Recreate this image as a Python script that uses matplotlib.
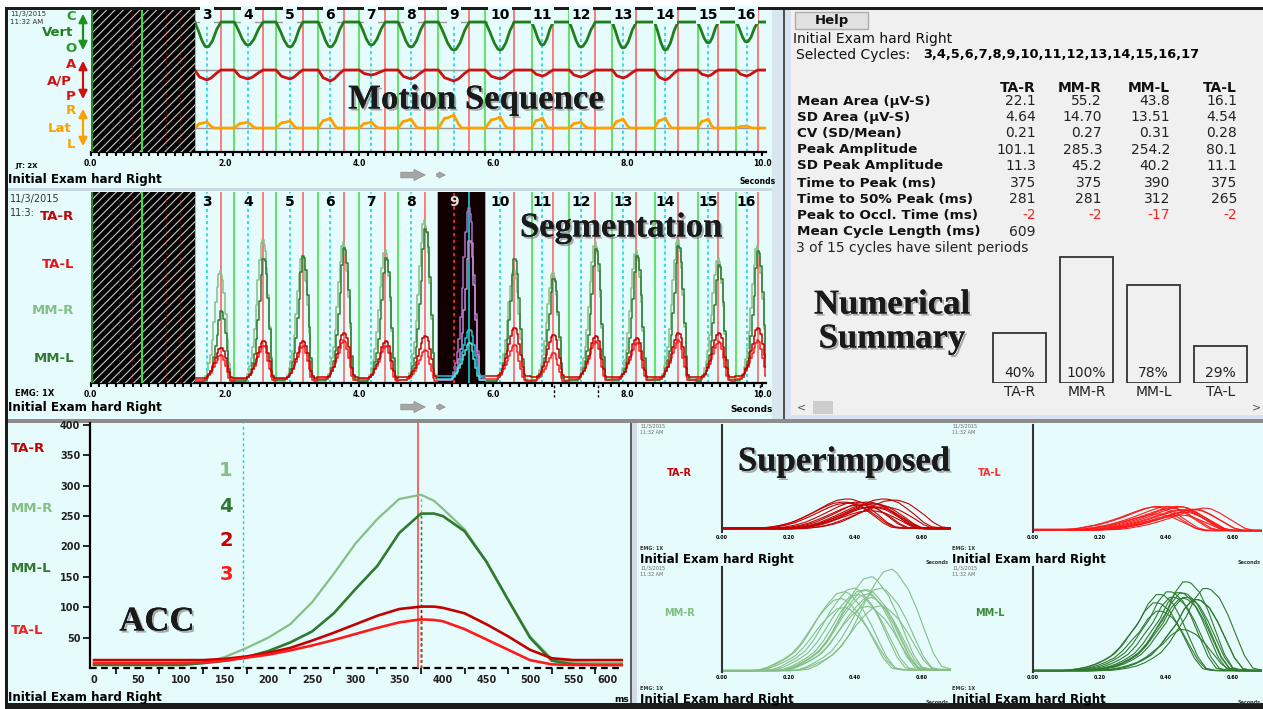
import numpy as np
import matplotlib
matplotlib.use('Agg')
import matplotlib.pyplot as plt
from matplotlib.patches import Rectangle, FancyArrowPatch
import matplotlib.patheffects as pe

plt.rcParams['font.family'] = ['DejaVu Sans']
plt.rcParams['hatch.linewidth'] = 0.8

# ---------------- data ----------------
cycle_numbers = list(range(3, 17))
cycle_start = [1.55, 2.14, 2.76, 3.39, 4.00, 4.58, 5.18, 5.88, 6.57, 7.13, 7.77, 8.40, 9.04, 9.62]
cycle_mid = [1.73, 2.34, 2.97, 3.57, 4.18, 4.77, 5.41, 6.10, 6.73, 7.30, 7.93, 8.56, 9.20, 9.77]
cycle_end = [1.94, 2.57, 3.16, 3.77, 4.39, 4.98, 5.64, 6.31, 6.89, 7.52, 8.13, 8.75, 9.35, 9.94]
excluded_until = 1.55
extra_marker = 0.77
selected_idx = 6          # cycle 9 highlighted
occlusion_marks = [6.9, 7.55, 9.97]

# jaw tracking excursions per cycle
vert_depth = [25, 23, 25, 25, 23, 25, 28, 28, 23, 25, 26, 28, 21, 20]
ap_depth = [10, 9, 9, 11, 5, 9, 11, 9, 6, 7, 8, 10, 6, 6]
lat_height = [6, 6, 7, 10, 6, 9, 13, 11, 10, 6, 9, 10, 9, 2]

# shape of one opening stroke (fraction of phase -> fraction of excursion)
vert_down_f, vert_down_v = [0, 0.3, 0.6, 0.85, 1.0], [0, 0.35, 0.75, 0.97, 1.0]
vert_up_f, vert_up_v = [0.15, 0.4, 0.7, 1.0], [0.97, 0.75, 0.3, 0.0]
ap_down_f, ap_down_v = [0, 0.4, 1.0], [0, 0.7, 1.0]
ap_up_f, ap_up_v = [0.3, 0.7, 1.0], [0.8, 0.3, 0.0]
lat_down_f, lat_down_v = [0, 0.4, 0.65, 1.0], [0, 0.75, 0.8, 1.0]
lat_up_f, lat_up_v = [0.3, 0.5, 1.0], [0.3, 0.0, 0.0]

# EMG peak amplitude per cycle (uV)
mmr_amp = [238, 304, 270, 298, 283, 345, 372, 240, 234, 298, 281, 304, 266, 291]
mml_amp = [153, 262, 270, 287, 266, 326, 302, 262, 220, 285, 270, 290, 250, 280]
tar_amp = [75, 89, 89, 106, 89, 100, 113, 117, 102, 100, 96, 106, 106, 117]
tal_amp = [60, 79, 79, 91, 79, 70, 85, 81, 64, 89, 85, 91, 89, 91]

# averaged cycle (ACC)
acc_ms = [0, 50, 100, 125, 150, 175, 200, 225, 250, 275, 300, 325, 350, 375, 390,
          400, 425, 450, 475, 500, 525, 550, 575, 610]
acc_mmr = [5, 5, 5, 8, 18, 33, 50, 72, 108, 155, 205, 245, 278, 285, 275, 262, 228, 175, 112, 52, 15, 9, 8, 8]
acc_mml = [5, 5, 5, 8, 12, 18, 28, 42, 60, 90, 130, 168, 222, 254, 254, 250, 225, 175, 112, 50, 12, 6, 5, 5]
acc_tar = [13, 13, 13, 13, 15, 19, 25, 33, 45, 58, 72, 86, 97, 101, 101, 99, 90, 72, 52, 30, 16, 13, 13, 13]
acc_tal = [8, 8, 8, 9, 12, 17, 22, 29, 37, 46, 56, 66, 75, 80, 79, 77, 64, 47, 30, 13, 6, 5, 5, 5]
acc_start_ms = 171
acc_occlusion_ms = 372

# numerical summary
muscles = ['TA-R', 'MM-R', 'MM-L', 'TA-L']
row_labels = ['Mean Area (µV-S)', 'SD Area (µV-S)', 'CV (SD/Mean)', 'Peak Amplitude',
              'SD Peak Amplitude', 'Time to Peak (ms)', 'Time to 50% Peak (ms)',
              'Peak to Occl. Time (ms)']
tar_stats = ['22.1', '4.64', '0.21', '101.1', '11.3', '375', '281', '-2']
mmr_stats = ['55.2', '14.70', '0.27', '285.3', '45.2', '375', '281', '-2']
mml_stats = ['43.8', '13.51', '0.31', '254.2', '40.2', '390', '312', '-17']
tal_stats = ['16.1', '4.54', '0.28', '80.1', '11.1', '375', '265', '-2']
mean_cycle_ms = '609'
pct_of_max = [40, 100, 78, 29]

# ---------------- colours ----------------
CYAN_BG = '#e6fbfc'
C_TAR, C_TAL, C_MMR, C_MML = '#c40000', '#ff1a1a', '#86bf86', '#2f7a2f'
C_START, C_END, C_MID = '#3ddc3d', '#ff5a5a', '#00d4ea'

W, H = 1263, 709
fig = plt.figure(figsize=(W / 100, H / 100), dpi=100)


def rect(x0, y0, x1, y1):
    return [x0 / W, 1 - y1 / H, (x1 - x0) / W, (y1 - y0) / H]


def txt(x, y, s, **kw):
    kw.setdefault('va', 'center')
    return fig.text(x / W, 1 - y / H, s, **kw)


SHADOW = [pe.withSimplePatchShadow(offset=(1.5, -1.5), shadow_rgbFace='#777777', alpha=0.6), pe.Normal()]


def title(x, y, s):
    txt(x, y, s, ha='center', family='Liberation Serif', fontweight='bold', fontsize=25,
        color='#1a1a1a', zorder=20, path_effects=SHADOW)


# ---------------- background / window chrome ----------------
bg = fig.add_axes([0, 0, 1, 1], zorder=-5)
bg.set_xlim(0, W)
bg.set_ylim(H, 0)
bg.axis('off')
panels = [((5, 7, 1263, 709), '#1c1c1c'),
          ((8, 10, 784, 188), CYAN_BG), ((8, 188, 784, 191), '#c9d9e3'),
          ((8, 191, 784, 419), CYAN_BG),
          ((772, 10, 783, 419), '#d9e6ef'), ((783, 10, 785, 420), '#505050'),
          ((785, 10, 791, 420), '#d7e3f2'), ((791, 10, 1263, 420), '#f0f0f0'),
          ((791, 415, 1263, 420), '#d7e3f2'),
          ((8, 419, 1263, 423), '#8c8c8c'),
          ((8, 423, 630, 703), CYAN_BG), ((630, 423, 632, 703), '#606060'),
          ((632, 423, 637, 703), '#d3dce4'), ((637, 423, 1263, 703), CYAN_BG)]
for (x0, y0, x1, y1), c in panels:
    bg.add_patch(Rectangle((x0, y0), x1 - x0, y1 - y0, facecolor=c, edgecolor='none'))

# help button and scroll bar
bg.add_patch(Rectangle((795, 12), 73, 17, facecolor='#e1e1e1', edgecolor='#adadad', lw=1))
bg.add_patch(Rectangle((813, 401), 20, 13, facecolor='#cdcdcd', edgecolor='none'))
txt(832, 20.5, 'Help', ha='center', fontweight='bold', fontsize=9.5, color='#111111')
txt(797, 407, '<', fontsize=8, color='#555555')
txt(1252, 407, '>', fontsize=8, color='#555555')

# navigation arrows
for y0 in (175, 407):
    for xa, xb, w in ((398, 428, 9), (434, 448, 5)):
        bg.add_patch(FancyArrowPatch((xa, y0), (xb, y0),
                                     arrowstyle=f'simple,head_width={w * 0.9},head_length={w * 0.9},tail_width={w * 0.45}',
                                     mutation_scale=1, facecolor='#a6a6a6', edgecolor='#8a8a8a', lw=0.5))


# ---------------- time-based panels ----------------
def time_axis(ax):
    ax.set_xlim(0, 10.06)
    ax.patch.set_alpha(0)
    for s in ('top', 'right', 'left'):
        ax.spines[s].set_visible(False)
    ax.spines['bottom'].set_linewidth(1.6)
    major = np.arange(0, 10.01, 2.0)
    ax.set_xticks(major)
    ax.set_xticklabels([f'{v:.1f}' for v in major], fontsize=5.5, fontweight='bold')
    ax.set_xticks(np.arange(0, 10.06, 0.125), minor=True)
    ax.tick_params(axis='x', which='both', length=3, width=1.5, pad=2, direction='out')
    ax.set_yticks([])
    ax.axvspan(0, excluded_until, facecolor='black', edgecolor='#c8c8c8', hatch='////', lw=0, zorder=3)
    for x in (0.42, 0.62, 1.12, 1.33):
        ax.axvline(x, color='#b01010', lw=0.8, ls=(0, (1, 3)), zorder=3.5)
    ax.axvline(0, color='#1f8f1f', lw=3, zorder=4)
    ax.axvline(extra_marker, color=C_START, lw=1.5, zorder=4)
    for g, m, r in zip(cycle_start, cycle_mid, cycle_end):
        ax.axvline(g, color=C_START, lw=1.1, zorder=1)
        ax.axvline(r, color=C_END, lw=1.1, zorder=1)
        ax.axvline(m, color=C_MID, lw=1.1, ls=(0, (2, 2)), zorder=1)


def motion_trace(df, dv, uf, uv, amps, base, sign):
    t, v = [excluded_until], [base]
    for g, m, r, a in zip(cycle_start, cycle_mid, cycle_end, amps):
        for f, s in zip(df, dv):
            t.append(g + f * (m - g))
            v.append(base + sign * a * s)
        for f, s in zip(uf, uv):
            t.append(m + f * (r - m))
            v.append(base + sign * a * s)
    t.append(10.1)
    v.append(base)
    return t, v


# Motion sequence
axm = fig.add_axes(rect(90.7, 10, 766, 152))
time_axis(axm)
axm.set_ylim(0, 142)
base_vert, base_ap, base_lat = 130, 82, 24
for b in (base_vert, base_ap, base_lat):
    axm.hlines(b, excluded_until, 10.06, color='#9a9a9a', lw=1, zorder=1)
for spec, c in (((vert_down_f, vert_down_v, vert_up_f, vert_up_v, vert_depth, base_vert, -1), '#1f7f1f'),
                ((ap_down_f, ap_down_v, ap_up_f, ap_up_v, ap_depth, base_ap, -1), '#cc1111'),
                ((lat_down_f, lat_down_v, lat_up_f, lat_up_v, lat_height, base_lat, 1), '#ffa000')):
    t, v = motion_trace(*spec)
    axm.plot(t, v, color=c, lw=2, zorder=2)
for n, m in zip(cycle_numbers, cycle_mid):
    axm.text(m, 137, str(n), ha='center', va='center', fontsize=10, fontweight='bold', zorder=6,
             bbox=dict(boxstyle='square,pad=0.15', fc=CYAN_BG, ec='none'))


# Segmentation
def seg_trace(curve, amps, only=None):
    curve = np.asarray(curve, float)
    ms = np.asarray(acc_ms) / 1000.0
    peak_ms = ms[np.argmax(curve)]
    t, v = [], []
    for i, (g, r, a) in enumerate(zip(cycle_start, cycle_end, amps)):
        if only is not None and i != only:
            continue
        nxt = cycle_start[i + 1] if i + 1 < len(cycle_start) else 99
        tt = r + ms - peak_ms
        keep = (tt >= g) & (tt < nxt)
        t.extend([g] + list(tt[keep]))
        v.extend([curve[0] * a / curve.max()] + list(curve[keep] * a / curve.max()))
    return t, v


axs = fig.add_axes(rect(90.7, 192, 766, 383))
time_axis(axs)
axs.set_ylim(0, 405)
for curve, amps, c in ((acc_mmr, mmr_amp, C_MMR), (acc_mml, mml_amp, C_MML),
                       (acc_tal, tal_amp, C_TAL), (acc_tar, tar_amp, C_TAR)):
    t, v = seg_trace(curve, amps)
    axs.plot(t, v, color=c, lw=1.1, zorder=2, drawstyle='steps-mid')
g0, g1 = cycle_start[selected_idx], cycle_start[selected_idx + 1]
axs.axvspan(g0, g1, facecolor='#120000', edgecolor='none', zorder=3)
axs.axvline(cycle_mid[selected_idx], color='#ff3030', ls=(0, (2, 2)), lw=1.2, zorder=4)
axs.axvline(cycle_end[selected_idx], color='#20c8d8', lw=1.2, zorder=4)
for curve, amps, c in ((acc_mmr, mmr_amp, '#a673c8'), (acc_mml, mml_amp, '#c58ad8'),
                       (acc_tar, tar_amp, '#22c4d4'), (acc_tal, tal_amp, '#4fe0e0')):
    t, v = seg_trace(curve, amps, only=selected_idx)
    axs.plot(t, v, color=c, lw=1.1, zorder=5, drawstyle='steps-mid')
for n, m in zip(cycle_numbers, cycle_mid):
    axs.text(m, 383, str(n), ha='center', va='center', fontsize=10, fontweight='bold', zorder=6,
             color='#e0e0e0' if n == cycle_numbers[selected_idx] else 'black')
for x in occlusion_marks:
    axs.plot([x, x], [-4, -30], color='black', ls=(0, (2, 1.5)), lw=1, clip_on=False)

# left-hand labels of the two time panels
txt(10, 14, '11/3/2015', fontsize=5, color='#333333')
txt(10, 22, '11:32 AM', fontsize=5, color='#333333')
for s, x, y, c in (('C', 71, 16, '#2a9a2a'), ('Vert', 58, 33, '#1f7f1f'), ('O', 71, 49, '#2a9a2a'),
                   ('A', 71, 65, '#dd1111'), ('A/P', 59, 81, '#cc1111'), ('P', 71, 97, '#dd1111'),
                   ('R', 71, 111, '#ffa000'), ('Lat', 60, 128, '#ffa000'), ('L', 71, 144, '#ffa000')):
    txt(x, y, s, ha='center', fontsize=9.5, fontweight='bold', color=c)
for y0, y1, c in ((11, 53, '#1f8f1f'), (58, 102, '#cc1111'), (106, 149, '#ffa000')):
    bg.add_patch(FancyArrowPatch((83, y0), (83, y1), arrowstyle='<|-|>,head_width=2.5,head_length=5',
                                 mutation_scale=1, color=c, lw=1.6))
txt(15, 166, 'JT: 2X', fontsize=5, fontweight='bold')
txt(8, 179, 'Initial Exam hard Right', fontsize=8.6, fontweight='bold')
txt(740, 181, 'Seconds', fontsize=5.5, fontweight='bold')
title(476, 100, 'Motion Sequence')

txt(10, 199, '11/3/2015', fontsize=7, color='#333333')
txt(10, 213, '11:3:', fontsize=7, color='#333333')
for s, y, c in (('TA-R', 216, C_TAR), ('TA-L', 264, '#ee1111'), ('MM-R', 311, C_MMR), ('MM-L', 358, C_MML)):
    txt(74, y, s, ha='right', fontsize=9.5, fontweight='bold', color=c)
txt(15, 393, 'EMG: 1X', fontsize=6, fontweight='bold')
txt(8, 408, 'Initial Exam hard Right', fontsize=8.6, fontweight='bold')
txt(773, 410, 'Seconds', ha='right', fontsize=6.5, fontweight='bold')
title(621, 228, 'Segmentation')

# ---------------- numerical summary ----------------
txt(793, 39, 'Initial Exam hard Right', fontsize=10, color='#111111')
txt(796, 55, 'Selected Cycles:', fontsize=10, color='#111111')
txt(923, 55, ','.join(str(n) for n in cycle_numbers + [17]), fontsize=9.3, fontweight='bold')
col_x = [1036, 1102, 1170, 1237]
row_y = [101, 117, 133, 150, 166, 183, 199, 215]
for m, x in zip(muscles, col_x):
    txt(x, 88, m, ha='right', fontsize=10, fontweight='bold', color='#111111')
for stats, x in zip((tar_stats, mmr_stats, mml_stats, tal_stats), col_x):
    for i, (s, y) in enumerate(zip(stats, row_y)):
        txt(x, y, s, ha='right', fontsize=10, color='#ff2222' if i == 7 else '#222222')
for s, y in zip(row_labels, row_y):
    txt(797, y, s, fontsize=9.7, fontweight='bold', color='#111111')
txt(797, 232, 'Mean Cycle Length (ms)', fontsize=9.7, fontweight='bold', color='#111111')
txt(1036, 232, mean_cycle_ms, ha='right', fontsize=10, color='#222222')
txt(796, 248, '3 of 15 cycles have silent periods', fontsize=10, color='#222222')
for s, y in (('Numerical', 305), ('Summary', 339)):
    txt(892, y, s, ha='center', family='Liberation Serif', fontweight='bold', fontsize=25,
        color='#1a1a1a', path_effects=SHADOW)

axb = fig.add_axes(rect(986, 255, 1254, 383))
axb.patch.set_alpha(0)
axb.set_xlim(-0.5, 3.5)
axb.set_ylim(0, 100 * 128 / 126)
axb.bar(range(4), pct_of_max, width=0.79, facecolor='none', edgecolor='#333333', lw=1.3)
for i, p in enumerate(pct_of_max):
    axb.text(i, 2, f'{p}%', ha='center', va='bottom', fontsize=10, color='#222222')
axb.axis('off')
for i, m in enumerate(muscles):
    txt(986 + (i + 0.5) * 67, 392, m, ha='center', fontsize=10, color='#222222')

# ---------------- ACC ----------------
axa = fig.add_axes(rect(90, 423, 623, 668))
axa.patch.set_alpha(0)
axa.set_xlim(-4.6, 606.7)
axa.set_ylim(0, 403)
for s in ('top', 'right', 'bottom'):
    axa.spines[s].set_visible(False)
axa.spines['left'].set_linewidth(1.6)
axa.set_yticks(range(50, 401, 50))
axa.set_xticks(range(0, 601, 50))
axa.set_xticks(range(25, 600, 50), minor=True)
axa.tick_params(axis='y', length=5, width=1.2, pad=2, labelsize=7)
axa.tick_params(axis='x', which='major', length=0, pad=5, labelsize=7)
axa.tick_params(axis='x', which='minor', length=4, width=1.2)
for lab in axa.get_xticklabels() + axa.get_yticklabels():
    lab.set_fontweight('bold')
    lab.set_color('#222222')
axa.get_xticklabels()[-1].set_horizontalalignment('right')
axa.axhline(0, color='black', lw=1.6, ls=(0, (3, 2)), clip_on=False)
axa.axvline(acc_start_ms, color='#10d0e8', lw=1, ls=(0, (2, 2)))
axa.axvline(acc_occlusion_ms, color='#ff4a4a', lw=1.2)
for curve, c, lw in ((acc_mmr, C_MMR, 1.6), (acc_mml, C_MML, 1.9), (acc_tar, C_TAR, 1.9), (acc_tal, C_TAL, 1.9)):
    i = int(np.argmax(curve))
    axa.vlines(acc_ms[i], 0, curve[i], color=c, lw=1, ls=(0, (2, 2)))
    axa.plot(acc_ms, curve, color=c, lw=lw)
for s, y, c in (('TA-R', 448, C_TAR), ('MM-R', 508, C_MMR), ('MM-L', 568, C_MML), ('TA-L', 631, '#ff1a1a')):
    txt(11, y, s, fontsize=9.5, fontweight='bold', color=c)
for s, y, c in (('1', 470, C_MMR), ('4', 507, C_MML), ('2', 540, C_TAR), ('3', 575, '#ff1a1a')):
    txt(226, y, s, ha='center', fontsize=14, fontweight='bold', color=c)
txt(8, 698, 'Initial Exam hard Right', fontsize=8.6, fontweight='bold')
txt(614, 700, 'ms', fontsize=6.5, fontweight='bold')
title(157, 622, 'ACC')

# ---------------- superimposed ----------------
super_shift = 0.05
sub_specs = [((722, 425, 951, 532), acc_tar, tar_amp, C_TAR, 'TA-R', '#c00000', 640),
             ((1033, 425, 1262, 532), acc_tal, tal_amp, C_TAL, 'TA-L', '#ff2a2a', 952),
             ((722, 567, 951, 672), acc_mmr, mmr_amp, C_MMR, 'MM-R', '#7fbf7f', 640),
             ((1033, 567, 1262, 672), acc_mml, mml_amp, C_MML, 'MM-L', '#3a8a3a', 952)]
ms = np.asarray(acc_ms) / 1000.0
for (x0, y0, x1, y1), curve, amps, c, name, lc, lx in sub_specs:
    ax = fig.add_axes(rect(x0, y0, x1, y1))
    ax.patch.set_alpha(0)
    ax.set_xlim(0, (x1 - x0) / 333.0)
    ax.set_ylim(0, 380)
    curve = np.asarray(curve, float)
    peak_ms = ms[np.argmax(curve)]
    for g, r, a in zip(cycle_start, cycle_end, amps):
        tt = (r - g) + ms - peak_ms + super_shift
        vv = curve * a / curve.max()
        ax.plot(np.r_[0, tt, 0.75], np.r_[vv[0], vv, vv[-1]], color=c, lw=0.8)
    for s in ('top', 'right', 'bottom'):
        ax.spines[s].set_visible(False)
    ax.spines['left'].set_linewidth(1.5)
    ax.spines['left'].set_color('#333333')
    ax.set_yticks([])
    ax.set_xticks([0, 0.2, 0.4, 0.6])
    ax.set_xticklabels(['0.00', '0.20', '0.40', '0.60'], fontsize=3.5, fontweight='bold')
    ax.tick_params(axis='x', length=0, pad=2)
    txt(x0 - 43, (y0 + y1) / 2 - 6, name, ha='center', fontsize=7, fontweight='bold', color=lc)
    txt(lx, y0 + 1, '11/3/2015', fontsize=3.5, color='#666666')
    txt(lx, y0 + 7, '11:32 AM', fontsize=3.5, color='#666666')
    txt(lx, y1 + 17, 'EMG: 1X', fontsize=3.5, fontweight='bold', color='#333333')
    txt(lx, y1 + 27, 'Initial Exam hard Right', fontsize=8.6, fontweight='bold')
    txt(lx + 309 if lx < 900 else 1261, y1 + 30, 'Seconds', ha='right', fontsize=3.5,
        fontweight='bold', color='#333333')
title(844, 462, 'Superimposed')

fig.savefig('out.png', dpi=100)
